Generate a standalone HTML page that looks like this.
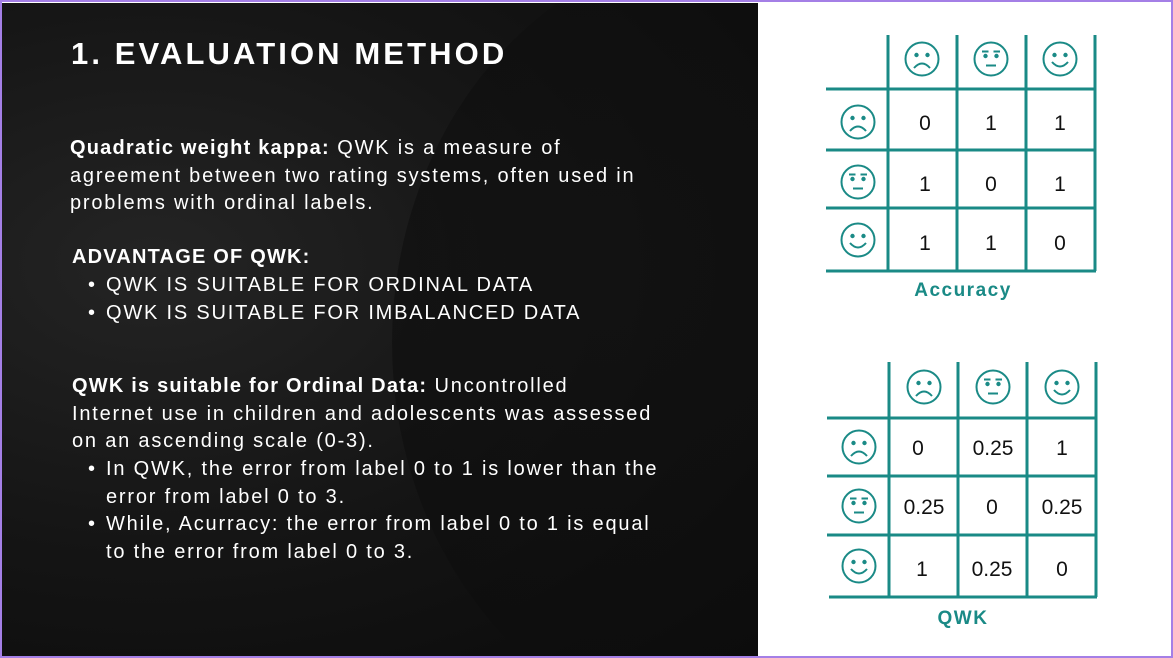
<!DOCTYPE html>
<html><head><meta charset="utf-8"><style>
html,body{margin:0;padding:0;}
body{width:1173px;height:658px;position:relative;overflow:hidden;background:#fff;font-family:"Liberation Sans",sans-serif;}
.frame{position:absolute;left:0;top:0;width:1169px;height:654px;border:2px solid #a47fe6;}
.dark{position:absolute;left:2px;top:3px;width:756px;height:653px;background:radial-gradient(ellipse at 20% 40%,#242424 0%,#151515 50%,#0a0a0a 100%);overflow:hidden;}
.t{position:absolute;color:#fff;white-space:nowrap;letter-spacing:1.8px;}
h1{position:absolute;left:71px;top:36px;margin:0;font-size:31px;color:#fff;letter-spacing:3.1px;font-weight:bold;}
.p{font-size:20px;line-height:27.5px;}
b{font-weight:bold;letter-spacing:1.2px;}
.bl{display:inline-block;width:18px;letter-spacing:0;}
</style></head><body>
<div class="dark">
<div style="position:absolute;left:390px;top:-60px;width:700px;height:800px;border-radius:50%;background:radial-gradient(ellipse at 30% 40%,#111 0%,#0b0b0b 100%);opacity:.7;"></div>
</div>
<div class="frame"></div>
<h1>1. EVALUATION METHOD</h1>
<div class="t p" style="left:70px;top:135px;"><b>Quadratic weight kappa:</b> QWK is a measure of<br>agreement between two rating systems, often used in<br>problems with ordinal labels.</div>
<div class="t p" style="left:72px;top:244px;"><b>ADVANTAGE OF QWK:</b></div>
<div class="t p" style="left:88px;top:272px;"><span class="bl">•</span>QWK IS SUITABLE FOR ORDINAL DATA<br><span class="bl">•</span>QWK IS SUITABLE FOR IMBALANCED DATA</div>
<div class="t p" style="left:72px;top:373px;"><b>QWK is suitable for Ordinal Data:</b> Uncontrolled<br>Internet use in children and adolescents was assessed<br>on an ascending scale (0-3).</div>
<div class="t p" style="left:88px;top:456px;"><span class="bl">•</span>In QWK, the error from label 0 to 1 is lower than the<br><span class="bl"></span>error from label 0 to 3.<br><span class="bl">•</span>While, Acurracy: the error from label 0 to 1 is equal<br><span class="bl"></span>to the error from label 0 to 3.</div>

<svg style="position:absolute;left:0;top:0;display:block" width="1173" height="658">
<defs>
<symbol id="sad" viewBox="-19 -19 38 38" width="38" height="38" overflow="visible">
<circle r="16.5" fill="none" stroke="#1a8a86" stroke-width="2"/>
<circle cx="-5.5" cy="-4" r="2.2" fill="#1a8a86"/><circle cx="5.5" cy="-4" r="2.2" fill="#1a8a86"/>
<path d="M-8 9 Q0 0 8 9" fill="none" stroke="#1a8a86" stroke-width="2"/>
</symbol>
<symbol id="neu" viewBox="-19 -19 38 38" width="38" height="38" overflow="visible">
<circle r="16.5" fill="none" stroke="#1a8a86" stroke-width="2"/>
<circle cx="-5.5" cy="-3" r="2.2" fill="#1a8a86"/><circle cx="5.5" cy="-3" r="2.2" fill="#1a8a86"/>
<path d="M-9 -7.5H-2.5M2.5 -7.5H9M-5 6.5H5" stroke="#1a8a86" stroke-width="2"/>
</symbol>
<symbol id="hap" viewBox="-19 -19 38 38" width="38" height="38" overflow="visible">
<circle r="16.5" fill="none" stroke="#1a8a86" stroke-width="2"/>
<circle cx="-5.5" cy="-4" r="2.2" fill="#1a8a86"/><circle cx="5.5" cy="-4" r="2.2" fill="#1a8a86"/>
<path d="M-8 3 Q0 12 8 3" fill="none" stroke="#1a8a86" stroke-width="2"/>
</symbol>
</defs>
<g stroke="#1a8a86" stroke-width="3">
<path d="M888 35V271M957 35V271M1026 35V271M1095 35V271M826 89H1096M826 150H1096M826 208H1096M826 271H1096"/>
<path d="M889 362V597M958 362V597M1027 362V597M1096 362V597M827 418H1097M827 476H1097M827 535H1097M829 597H1097"/>
</g>
<use href="#sad" x="903" y="40"/><use href="#neu" x="972" y="40"/><use href="#hap" x="1041" y="40"/>
<use href="#sad" x="839" y="103"/><use href="#neu" x="839" y="163"/><use href="#hap" x="839" y="221"/>
<use href="#sad" x="905" y="368"/><use href="#neu" x="974" y="368"/><use href="#hap" x="1043" y="368"/>
<use href="#sad" x="840" y="428"/><use href="#neu" x="840" y="487"/><use href="#hap" x="840" y="547"/>
<g font-family="Liberation Sans,sans-serif" font-size="21" fill="#111" text-anchor="middle">
<text x="925" y="130">0</text><text x="991" y="130">1</text><text x="1060" y="130">1</text>
<text x="925" y="191">1</text><text x="991" y="191">0</text><text x="1060" y="191">1</text>
<text x="925" y="250">1</text><text x="991" y="250">1</text><text x="1060" y="250">0</text>
<text x="918" y="455">0</text><text x="993" y="455">0.25</text><text x="1062" y="455">1</text>
<text x="924" y="514">0.25</text><text x="992" y="514">0</text><text x="1062" y="514">0.25</text>
<text x="922" y="576">1</text><text x="992" y="576">0.25</text><text x="1062" y="576">0</text>
</g>
<g font-family="Liberation Sans,sans-serif" font-size="19" font-weight="bold" fill="#1a8a86" text-anchor="middle" letter-spacing="1.5">
<text x="963" y="296">Accuracy</text><text x="963" y="624">QWK</text>
</g>
</svg>
</body></html>
